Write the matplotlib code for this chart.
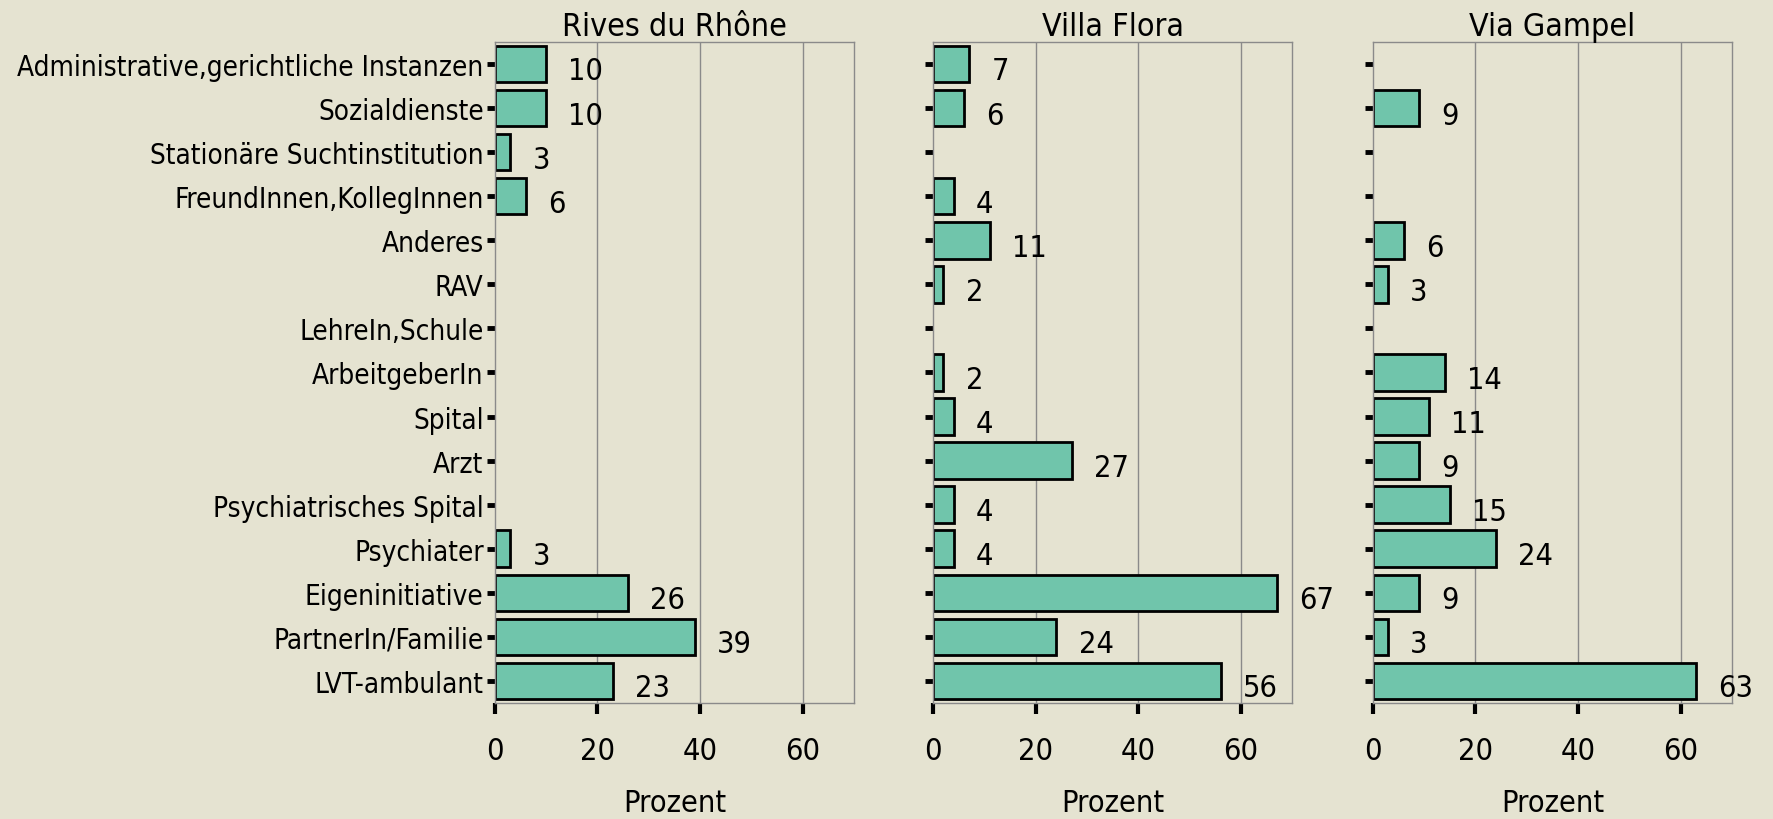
import matplotlib
matplotlib.use("Agg")
import matplotlib.pyplot as plt
import numpy as np

plt.rcParams["font.family"] = ["DejaVu Sans"]
plt.rcParams["font.stretch"] = "condensed"

categories = [
    "Administrative,gerichtliche Instanzen",
    "Sozialdienste",
    "Stationäre Suchtinstitution",
    "FreundInnen,KollegInnen",
    "Anderes",
    "RAV",
    "LehreIn,Schule",
    "ArbeitgeberIn",
    "Spital",
    "Arzt",
    "Psychiatrisches Spital",
    "Psychiater",
    "Eigeninitiative",
    "PartnerIn/Familie",
    "LVT-ambulant",
]
titles = ["Rives du Rhône", "Villa Flora", "Via Gampel"]
rives_du_rhone = [10, 10, 3, 6, 0, 0, 0, 0, 0, 0, 0, 3, 26, 39, 23]
villa_flora = [7, 6, 0, 4, 11, 2, 0, 2, 4, 27, 4, 4, 67, 24, 56]
via_gampel = [0, 9, 0, 0, 6, 3, 0, 14, 11, 9, 15, 24, 9, 3, 63]
x_ticks = [0, 20, 40, 60]

BG = "#e5e3d1"
BAR = "#70c5ab"
FS = 22
FS_Y = 20

fig = plt.figure(figsize=(17.74, 8.2), dpi=100, facecolor=BG)
lefts = [0.2789, 0.526, 0.7738]
width = 0.2025
bottom, top = 0.1415, 0.9476

ypos = np.arange(len(categories))[::-1]
for i, (title, vals) in enumerate(zip(titles, [rives_du_rhone, villa_flora, via_gampel])):
    ax = fig.add_axes([lefts[i], bottom, width, top - bottom])
    ax.set_facecolor("none")
    for x in x_ticks[1:]:
        ax.axvline(x, color="#8a8a8a", lw=1.0, zorder=0)
    for y, v in zip(ypos, vals):
        if v <= 0:
            continue
        ax.barh(y, v, height=0.83, color=BAR, edgecolor="black", linewidth=2.0, zorder=2)
        ax.annotate(str(v), (v, y), xytext=(16, -5), textcoords="offset points",
                    ha="left", va="center", fontsize=FS, annotation_clip=False, zorder=3)
    ax.set_xlim(0, 70)
    ax.set_ylim(-0.5, len(categories) - 0.5)
    ax.set_xticks(x_ticks)
    ax.set_xticklabels([str(t) for t in x_ticks], fontsize=FS)
    ax.set_yticks(ypos)
    if i == 0:
        ax.set_yticklabels(categories, fontsize=FS_Y)
    else:
        ax.set_yticklabels([])
    ax.tick_params(axis="y", length=6, width=3.5, color="black", pad=2)
    ax.tick_params(axis="x", length=8, width=3, color="black", pad=16)
    for s in ax.spines.values():
        s.set_color("#8a8a8a")
        s.set_linewidth(1.0)
    ax.set_title(title, fontsize=23, pad=5)
    ax.set_xlabel("Prozent", fontsize=FS, labelpad=16)

fig.savefig("out.png", dpi=100, facecolor=BG)
